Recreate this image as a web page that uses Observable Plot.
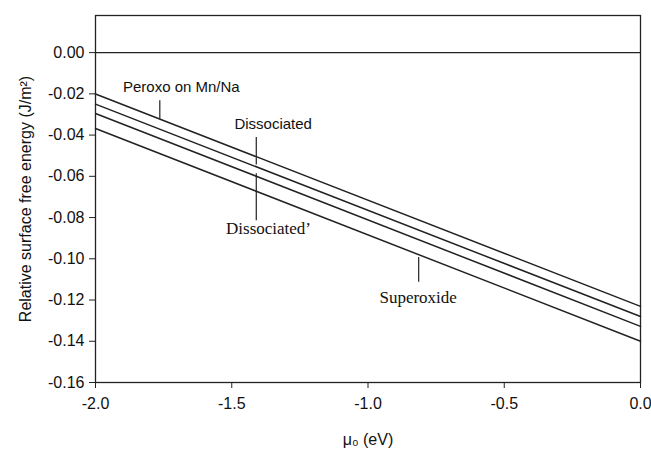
<!DOCTYPE html>
<html>
<head>
<meta charset="utf-8">
<script src="https://cdn.jsdelivr.net/npm/d3@7"></script>
<script src="https://cdn.jsdelivr.net/npm/@observablehq/plot@0.6"></script>
<style>
  body { margin: 0; background: #fff; }
</style>
</head>
<body>
<div id="chart"></div>
<script>
// Chemical potential endpoints (eV)
const mu0 = [-2.0, 0.0];
// Series values at the endpoints (J/m^2)
const peroxo = [-0.0201, -0.1231];
const dissociated = [-0.0250, -0.1280];
const dissociatedPrime = [-0.0295, -0.1328];
const superoxide = [-0.0368, -0.1400];
const seriesNames = ["Peroxo on Mn/Na", "Dissociated", "Dissociated'", "Superoxide"];
const seriesValues = [peroxo, dissociated, dissociatedPrime, superoxide];

const yTicks = [0.00, -0.02, -0.04, -0.06, -0.08, -0.10, -0.12, -0.14, -0.16];
const xTicks = [-2.0, -1.5, -1.0, -0.5, 0.0];

// Annotation labels (data coordinates) and leader lines
const labelText = ["Peroxo on Mn/Na", "Dissociated", "Dissociated\u2019", "Superoxide"];
const labelX = [-1.685, -1.348, -1.365, -0.816];
const labelY = [-0.0166, -0.0347, -0.0852, -0.1188];
const labelSerif = [false, false, true, true];
const leaderX = [-1.764, -1.41, -1.41, -0.814];
const leaderY1 = [-0.0234, -0.0412, -0.0588, -0.0994];
const leaderY2 = [-0.0323, -0.0545, -0.0815, -0.1114];

const lineData = seriesNames.flatMap((name, i) =>
  mu0.map((x, j) => ({series: name, x, y: seriesValues[i][j]})));
const labels = labelText.map((t, i) => ({text: t, x: labelX[i], y: labelY[i], serif: labelSerif[i]}));
const leaders = leaderX.map((x, i) => ({x, y1: leaderY1[i], y2: leaderY2[i]}));

const fmt2 = d => (Math.abs(d) < 1e-9 ? 0 : d).toFixed(2);
const fmt1 = d => (Math.abs(d) < 1e-9 ? 0 : d).toFixed(1);

const chart = Plot.plot({
  width: 651,
  height: 450,
  marginLeft: 95,
  marginRight: 11,
  marginTop: 15,
  marginBottom: 68,
  style: {fontFamily: "Liberation Sans, Arial, sans-serif", fontSize: "16px", color: "#111", background: "#fff"},
  x: {domain: [-2, 0]},
  y: {domain: [-0.16, 0.018]},
  marks: [
    Plot.axisY({ticks: yTicks, tickFormat: fmt2, tickSize: 6, tickPadding: 5, stroke: "#222", fontSize: 16,
      label: "Relative surface free energy (J/m\u00b2)", labelAnchor: "center", labelArrow: "none", labelOffset: 76}),
    Plot.axisX({ticks: xTicks, tickFormat: fmt1, tickSize: 6, tickPadding: 9, stroke: "#222", fontSize: 16,
      label: "\u03bc\u2080 (eV)", labelAnchor: "center", labelArrow: "none", labelOffset: 62}),
    Plot.frame({stroke: "#222", strokeWidth: 1.3}),
    Plot.ruleY([0], {stroke: "#222", strokeWidth: 1.3}),
    Plot.line(lineData, {x: "x", y: "y", z: "series", stroke: "#222", strokeWidth: 1.5}),
    Plot.ruleX(leaders, {x: "x", y1: "y1", y2: "y2", stroke: "#222", strokeWidth: 1.2}),
    Plot.text(labels.filter(d => !d.serif), {x: "x", y: "y", text: "text", fontSize: 15, fill: "#111",
      fontFamily: "Liberation Sans, Arial, sans-serif"}),
    Plot.text(labels.filter(d => d.serif), {x: "x", y: "y", text: "text", fontSize: 17, fill: "#111",
      fontFamily: "Liberation Serif, Times New Roman, serif"})
  ]
});
document.getElementById("chart").appendChild(chart);
</script>
</body>
</html>
